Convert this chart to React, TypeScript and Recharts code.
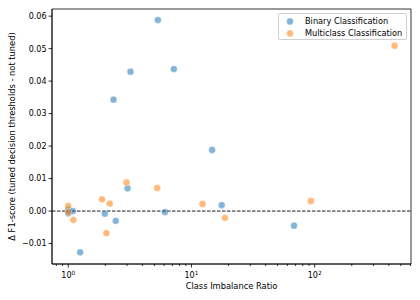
import React from "react";
import { ScatterChart, Scatter, XAxis, YAxis, ReferenceLine, ReferenceArea } from "recharts";

const binaryX = [1.0, 1.0, 1.09, 1.25, 1.98, 2.33, 2.43, 3.03, 3.2, 5.34, 6.09, 7.2, 14.7, 17.6, 68];
const binaryY = [0.0004, -0.0007, 0.0, -0.0127, -0.0008, 0.0343, -0.003, 0.007, 0.0429, 0.0588, -0.0003, 0.0437, 0.0188, 0.0018, -0.0045];
const multiX = [1.0, 1.0, 1.1, 1.88, 2.04, 2.17, 2.97, 5.27, 12.3, 18.7, 93, 445];
const multiY = [0.0016, -0.0003, -0.0027, 0.0036, -0.0068, 0.0023, 0.0088, 0.0071, 0.0022, -0.0021, 0.0031, 0.0509];
const seriesNames = ["Binary Classification", "Multiclass Classification"];
const colors = ["#1f77b4", "#ff7f0e"];
const yTicks = [-0.01, 0, 0.01, 0.02, 0.03, 0.04, 0.05, 0.06];
const majorX = [1, 10, 100];
const minorX = [0.8, 0.9, 2, 3, 4, 5, 6, 7, 8, 9, 20, 30, 40, 50, 60, 70, 80, 90, 200, 300, 400, 500, 600];
const xTicks = [...minorX, ...majorX].sort((a, b) => a - b);
const xDomain = [0.738, 605];
const yDomain = [-0.0163, 0.0622];

const binaryData = binaryX.map((x, i) => ({ x, y: binaryY[i] }));
const multiData = multiX.map((x, i) => ({ x, y: multiY[i] }));

const FONT = "DejaVu Sans";

const Dot = (color: string) => (props: any) => {
  const { cx, cy } = props;
  if (cx == null || cy == null) return null;
  return (
    <circle cx={cx} cy={cy} r={3.4} fill={color} fillOpacity={0.55} stroke="#ffffff" strokeOpacity={0.5} strokeWidth={0.6} />
  );
};

const XTick = (props: any) => {
  const { x, y, payload } = props;
  const v = payload.value;
  const isMajor = majorX.includes(v);
  const exp = Math.round(Math.log10(v));
  return (
    <g>
      <line x1={x} x2={x} y1={y} y2={y + (isMajor ? 3.5 : 2)} stroke="#000" strokeWidth={0.8} />
      {isMajor && (
        <text x={x} y={y + 14} textAnchor="middle" fontFamily={FONT} fontSize={8} fill="#000">
          10
          <tspan fontSize={5.8} dy={-3.5}>{exp}</tspan>
        </text>
      )}
    </g>
  );
};

const YTick = (props: any) => {
  const { x, y, payload } = props;
  const v = payload.value as number;
  const label = v.toFixed(2).replace("-", "\u2212");
  return (
    <g>
      <line x1={x - 3.5} x2={x} y1={y} y2={y} stroke="#000" strokeWidth={0.8} />
      <text x={x - 5.5} y={y + 2.9} textAnchor="end" fontFamily={FONT} fontSize={8} fill="#000">
        {label}
      </text>
    </g>
  );
};

const LegendBox = () => (
  <div
    style={{
      position: "absolute",
      left: 278,
      top: 13,
      border: "1px solid #d0d0d0",
      borderRadius: 2,
      background: "rgba(255,255,255,0.8)",
      width: 129,
      height: 27,
      boxSizing: "border-box",
      fontFamily: FONT,
      fontSize: 8.2,
      color: "#000",
    }}
  >
    {seriesNames.map((n, i) => (
      <div key={n} style={{ position: "absolute", left: 0, top: 1.5 + i * 12.5, height: 11, display: "flex", alignItems: "center" }}>
        <svg width={26} height={11} style={{ display: "block" }}>
          <circle cx={11} cy={5.5} r={3.4} fill={colors[i]} fillOpacity={0.55} stroke="#fff" strokeOpacity={0.5} strokeWidth={0.6} />
        </svg>
        <span style={{ whiteSpace: "nowrap", lineHeight: "11px" }}>{n}</span>
      </div>
    ))}
  </div>
);

export default function App() {
  return (
    <div style={{ position: "absolute", left: 0, top: 0, width: 420, height: 300, background: "#fff" }}>
      <ScatterChart width={420} height={300} margin={{ top: 9, right: 9, bottom: 0, left: 0 }}>
        <XAxis
          type="number"
          dataKey="x"
          scale="log"
          domain={xDomain}
          allowDataOverflow
          ticks={xTicks}
          interval={0}
          tickSize={0}
          tickMargin={0}
          tick={<XTick />}
          height={36}
          axisLine={{ stroke: "#000", strokeWidth: 0.8 }}
          label={{ value: "Class Imbalance Ratio", position: "insideBottom", offset: 11, style: { fontFamily: FONT, fontSize: 8.3, fill: "#000" } }}
        />
        <YAxis
          type="number"
          dataKey="y"
          domain={yDomain}
          allowDataOverflow
          ticks={yTicks}
          interval={0}
          tickSize={0}
          tickMargin={0}
          tick={<YTick />}
          width={52}
          axisLine={{ stroke: "#000", strokeWidth: 0.8 }}
          label={{
            value: "\u0394 F1-score (tuned decision thresholds - not tuned)",
            angle: -90,
            position: "insideLeft",
            offset: 0,
            dx: 12,
            style: { fontFamily: FONT, fontSize: 8.3, fill: "#000", textAnchor: "middle" },
          }}
        />
        <ReferenceArea x1={xDomain[0]} x2={xDomain[1]} y1={yDomain[0]} y2={yDomain[1]} fill="none" stroke="#000" strokeWidth={0.8} ifOverflow="visible" />
        <ReferenceLine y={0} stroke="#000" strokeWidth={0.9} strokeDasharray="3.5 1.5" />
        <Scatter name={seriesNames[0]} data={binaryData} shape={Dot(colors[0])} isAnimationActive={false} />
        <Scatter name={seriesNames[1]} data={multiData} shape={Dot(colors[1])} isAnimationActive={false} />
      </ScatterChart>
      <LegendBox />
    </div>
  );
}
